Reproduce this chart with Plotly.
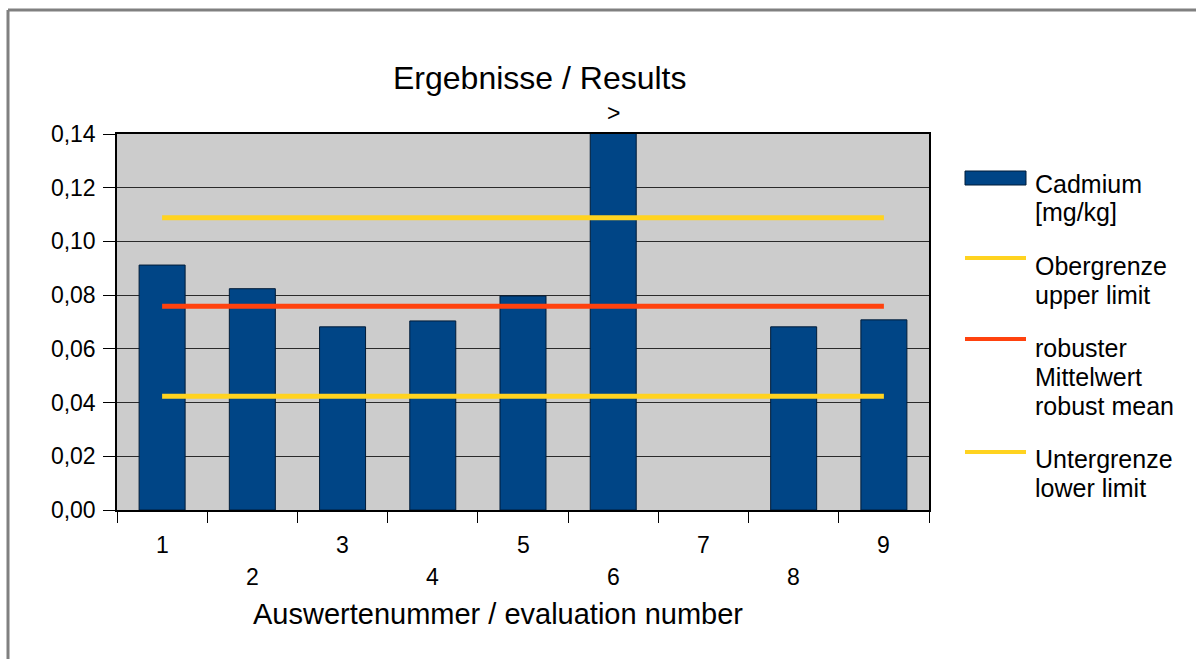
import plotly.graph_objects as go

# ---- data ----
evaluation_numbers = [1, 2, 3, 4, 5, 6, 7, 8, 9]
cadmium_mg_kg = [0.0912, 0.0824, 0.0682, 0.0704, 0.0797, 0.16, None, 0.0682, 0.0708]
upper_limit = 0.1088
robust_mean = 0.0759
lower_limit = 0.0424
y_ticks = [0.00, 0.02, 0.04, 0.06, 0.08, 0.10, 0.12, 0.14]
off_scale_marker = ">"  # shown above results exceeding the axis range

series_names = {
    "cadmium": ["Cadmium", "[mg/kg]"],
    "upper": ["Obergrenze", "upper limit"],
    "mean": ["robuster", "Mittelwert", "robust mean"],
    "lower": ["Untergrenze", "lower limit"],
}

BAR_COLOR = "#004586"
YELLOW = "#ffd320"
RED = "#ff420e"
FONT = "Liberation Sans, Arial, sans-serif"

W, H = 1196, 659
ML, MR, MT, MB = 117, 267, 134, 149
PW, PH = W - ML - MR, H - MT - MB


def px_x(px):
    return (px - ML) / PW


def px_y(py):
    return (H - MB - py) / PH


fig = go.Figure()

fig.add_trace(go.Bar(
    x=evaluation_numbers, y=cadmium_mg_kg,
    marker=dict(color=BAR_COLOR, line=dict(color="#001c38", width=1)),
    width=0.51, showlegend=False, name=" ".join(series_names["cadmium"]),
))

x_first, x_last = evaluation_numbers[0], evaluation_numbers[-1]
for val, col, key in [(upper_limit, YELLOW, "upper"),
                      (robust_mean, RED, "mean"),
                      (lower_limit, YELLOW, "lower")]:
    fig.add_trace(go.Scatter(
        x=[x_first, x_last], y=[val, val], mode="lines",
        line=dict(color=col, width=5), showlegend=False,
        name=" ".join(series_names[key]),
    ))

annotations = []
# staggered category labels
for i, n in enumerate(evaluation_numbers):
    annotations.append(dict(
        x=n, xref="x", y=px_y(545 if i % 2 == 0 else 577), yref="paper",
        text=str(n), showarrow=False, xanchor="center", yanchor="middle",
        font=dict(size=23, family=FONT, color="black"),
    ))

# marker above off-scale results
for n, v in zip(evaluation_numbers, cadmium_mg_kg):
    if v is not None and v > y_ticks[-1]:
        annotations.append(dict(
            x=n, xref="x", y=px_y(113), yref="paper", text=off_scale_marker,
            showarrow=False, xanchor="center", yanchor="middle",
            font=dict(size=23, family=FONT, color="black"),
        ))

annotations.append(dict(
    x=px_x(539), xref="paper", y=px_y(78), yref="paper",
    text="Ergebnisse / Results", showarrow=False,
    xanchor="center", yanchor="middle",
    font=dict(size=32, family=FONT, color="black"),
))
annotations.append(dict(
    x=px_x(498), xref="paper", y=px_y(614), yref="paper",
    text="Auswertenummer / evaluation number", showarrow=False,
    xanchor="center", yanchor="middle",
    font=dict(size=29, family=FONT, color="black"),
))

# legend drawn as shapes + text
shapes = []
legend_rows = [
    ("cadmium", "rect", BAR_COLOR, 178, [184, 212]),
    ("upper", "line", YELLOW, 258, [266, 295]),
    ("mean", "line", RED, 339, [348, 377, 406]),
    ("lower", "line", YELLOW, 452, [459, 488]),
]
for key, kind, col, sy, text_ys in legend_rows:
    if kind == "rect":
        shapes.append(dict(type="rect", xref="paper", yref="paper",
                           x0=px_x(965), x1=px_x(1026), y0=px_y(185), y1=px_y(171),
                           fillcolor=col, line=dict(color="#001c38", width=1)))
    else:
        shapes.append(dict(type="line", xref="paper", yref="paper",
                           x0=px_x(965), x1=px_x(1026), y0=px_y(sy), y1=px_y(sy),
                           line=dict(color=col, width=4)))
    for line_text, ty in zip(series_names[key], text_ys):
        annotations.append(dict(
            x=px_x(1033), xref="paper", y=px_y(ty), yref="paper",
            text=line_text, showarrow=False, xanchor="left", yanchor="middle",
            font=dict(size=25, family=FONT, color="black"),
        ))

# outer frame (top and left edges)
shapes.append(dict(type="line", xref="paper", yref="paper",
                   x0=px_x(8), x1=px_x(W + 5), y0=px_y(10), y1=px_y(10),
                   line=dict(color="#808080", width=3)))
shapes.append(dict(type="line", xref="paper", yref="paper",
                   x0=px_x(8), x1=px_x(8), y0=px_y(10), y1=px_y(H + 5),
                   line=dict(color="#808080", width=3)))

fig.update_layout(
    width=W, height=H,
    margin=dict(l=ML, r=MR, t=MT, b=MB),
    paper_bgcolor="white", plot_bgcolor="#cccccc",
    separators=",.",
    font=dict(family=FONT, color="black"),
    showlegend=False,
    annotations=annotations, shapes=shapes,
    xaxis=dict(
        range=[0.5, 9.5],
        tickvals=[n - 0.5 for n in evaluation_numbers] + [evaluation_numbers[-1] + 0.5],
        ticktext=[""] * (len(evaluation_numbers) + 1),
        ticks="outside", ticklen=11, tickwidth=1, tickcolor="black",
        showgrid=False, zeroline=False,
        showline=True, linecolor="black", linewidth=1.5, mirror=True,
    ),
    yaxis=dict(
        range=[0, 0.14], tickvals=y_ticks, tickformat=".2f",
        ticks="outside", ticklen=12, tickwidth=1, tickcolor="black",
        ticklabelstandoff=3,
        tickfont=dict(size=23, family=FONT, color="black"),
        showgrid=True, gridcolor="#2a2a2a", gridwidth=1,
        zeroline=False,
        showline=True, linecolor="black", linewidth=1.5, mirror=True,
    ),
)

fig.write_html("out.html")
